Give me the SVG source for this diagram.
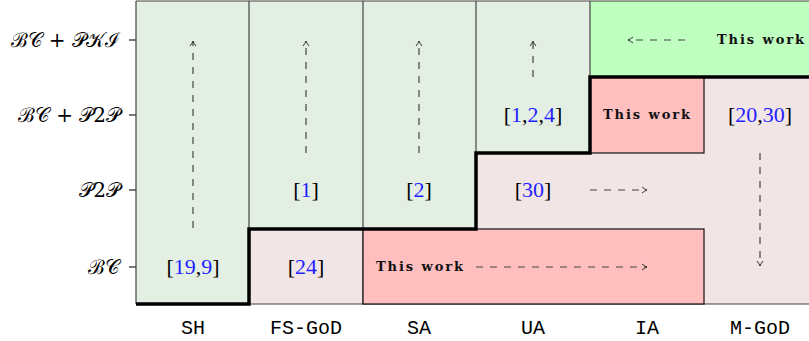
<svg xmlns="http://www.w3.org/2000/svg" width="809" height="341" viewBox="0 0 809 341">
  <style>
    .lbl { font-family: "DejaVu Serif", "Liberation Serif", serif; font-size: 20px; font-weight: normal; fill: #000; }
    .col { font-family: "Liberation Mono", "DejaVu Sans Mono", monospace; font-size: 20px; fill: #000; }
    .ref { font-family: "Liberation Serif", "DejaVu Serif", serif; font-size: 22px; fill: #000; }
    .num { fill: #1f1fff; }
    .tw { font-family: "DejaVu Serif", "Liberation Serif", serif; font-size: 13px; font-weight: bold; fill: #111; }
    .grn { fill: #e4efe4; }
    .pnk { fill: #f1e5e5; }
    .red { fill: #ffbfbf; stroke: #111; stroke-width: 1.2; }
    .lime { fill: #bfffbf; }
    .thin { stroke: #444; stroke-width: 1.2; fill: none; }
    .stair { stroke: #000; stroke-width: 3.5; fill: none; stroke-linejoin: miter; }
    .arr { stroke: #444; stroke-width: 1.2; fill: none; stroke-dasharray: 7 7; marker-end: url(#tip); }
    .tick { stroke: #222; stroke-width: 1.2; }
  </style>
  <defs>
    <marker id="tip" viewBox="0 0 8 8" refX="7" refY="4" markerWidth="8" markerHeight="8" markerUnits="userSpaceOnUse" orient="auto">
      <path d="M2,1 Q5,3.4 7,4 Q5,4.6 2,7" stroke="#333" stroke-width="1" fill="none" stroke-dasharray="none"/>
    </marker>
  </defs>

  <rect width="809" height="341" fill="#fff"/>

  <!-- background regions -->
  <g id="regions">
    <rect class="pnk" x="136" y="1" width="673" height="303"/>
    <polygon class="grn" points="136,1 590,1 590,153 476,153 476,229 249,229 249,304 136,304"/>
    <rect class="lime" x="590" y="1" width="219" height="76"/>
  </g>

  <!-- row labels -->
  <g id="rows">
    <line class="tick" x1="129" y1="40" x2="136" y2="40"/>
    <line class="tick" x1="129" y1="115" x2="136" y2="115"/>
    <line class="tick" x1="129" y1="190" x2="136" y2="190"/>
    <line class="tick" x1="129" y1="267" x2="136" y2="267"/>
    <text class="lbl" x="120" y="47" text-anchor="end">ℬ𝒞 + 𝒫𝒦ℐ</text>
    <text class="lbl" x="120" y="122" text-anchor="end">ℬ𝒞 + 𝒫2𝒫</text>
    <text class="lbl" x="120" y="197" text-anchor="end">𝒫2𝒫</text>
    <text class="lbl" x="120" y="274" text-anchor="end">ℬ𝒞</text>
  </g>

  <!-- column labels -->
  <g id="columns">
    <text class="col" x="193" y="334" text-anchor="middle">SH</text>
    <text class="col" x="306" y="334" text-anchor="middle">FS-GoD</text>
    <text class="col" x="419" y="334" text-anchor="middle">SA</text>
    <text class="col" x="533" y="334" text-anchor="middle">UA</text>
    <text class="col" x="647" y="334" text-anchor="middle">IA</text>
    <text class="col" x="760" y="334" text-anchor="middle">M-GoD</text>
  </g>

  <!-- cell grid -->
  <g id="grid">
    <line class="thin" x1="136" y1="1" x2="809" y2="1"/>
    <line class="thin" x1="136" y1="304" x2="809" y2="304"/>
    <line class="thin" x1="136" y1="1" x2="136" y2="304"/>
    <line class="thin" x1="249" y1="1" x2="249" y2="229"/>
    <line class="thin" x1="363" y1="1" x2="363" y2="304"/>
    <line class="thin" x1="476" y1="1" x2="476" y2="153"/>
    <line class="thin" x1="590" y1="1" x2="590" y2="77" stroke="#4a6a4a"/>
  </g>

  <!-- cells -->
  <g id="sh-bc"><text class="ref" x="193" y="274" text-anchor="middle">[<tspan class="num">19</tspan>,<tspan class="num">9</tspan>]</text></g>
  <g id="fsgod-bc"><text class="ref" x="306" y="274" text-anchor="middle">[<tspan class="num">24</tspan>]</text></g>
  <g id="fsgod-p2p"><text class="ref" x="306" y="197" text-anchor="middle">[<tspan class="num">1</tspan>]</text></g>
  <g id="sa-p2p"><text class="ref" x="419" y="197" text-anchor="middle">[<tspan class="num">2</tspan>]</text></g>
  <g id="ua-bcp2p"><text class="ref" x="533" y="122" text-anchor="middle">[<tspan class="num">1</tspan>,<tspan class="num">2</tspan>,<tspan class="num">4</tspan>]</text></g>
  <g id="ua-p2p"><text class="ref" x="533" y="197" text-anchor="middle">[<tspan class="num">30</tspan>]</text></g>
  <g id="mgod-bcp2p"><text class="ref" x="760" y="122" text-anchor="middle">[<tspan class="num">20</tspan>,<tspan class="num">30</tspan>]</text></g>
  <g id="bc-this-work">
    <rect class="red" x="363" y="229" width="341" height="75"/>
    <text class="tw" x="376" y="271" textLength="87" lengthAdjust="spacing">This work</text>
  </g>
  <g id="ia-bcp2p">
    <rect class="red" x="590" y="77" width="114" height="76"/>
    <text class="tw" x="603" y="119" textLength="87" lengthAdjust="spacing">This work</text>
  </g>
  <g id="pki-this-work">
    <text class="tw" x="717" y="44" textLength="87" lengthAdjust="spacing">This work</text>
  </g>

  <!-- dominance staircase -->
  <g id="staircase">
    <polyline class="stair" points="136,304 249,304 249,229 476,229 476,153 590,153 590,77 809,77"/>
  </g>

  <!-- connectors -->
  <g id="connectors">
    <line class="arr" x1="193" y1="228" x2="193" y2="41"/>
    <line class="arr" x1="306" y1="153" x2="306" y2="41"/>
    <line class="arr" x1="419" y1="153" x2="419" y2="41"/>
    <line class="arr" x1="533" y1="77" x2="533" y2="41"/>
    <line class="arr" x1="685" y1="40" x2="628" y2="40"/>
    <line class="arr" x1="590" y1="190" x2="647" y2="190"/>
    <line class="arr" x1="476" y1="267" x2="647" y2="267"/>
    <line class="arr" x1="760" y1="153" x2="760" y2="266"/>
  </g>
</svg>
